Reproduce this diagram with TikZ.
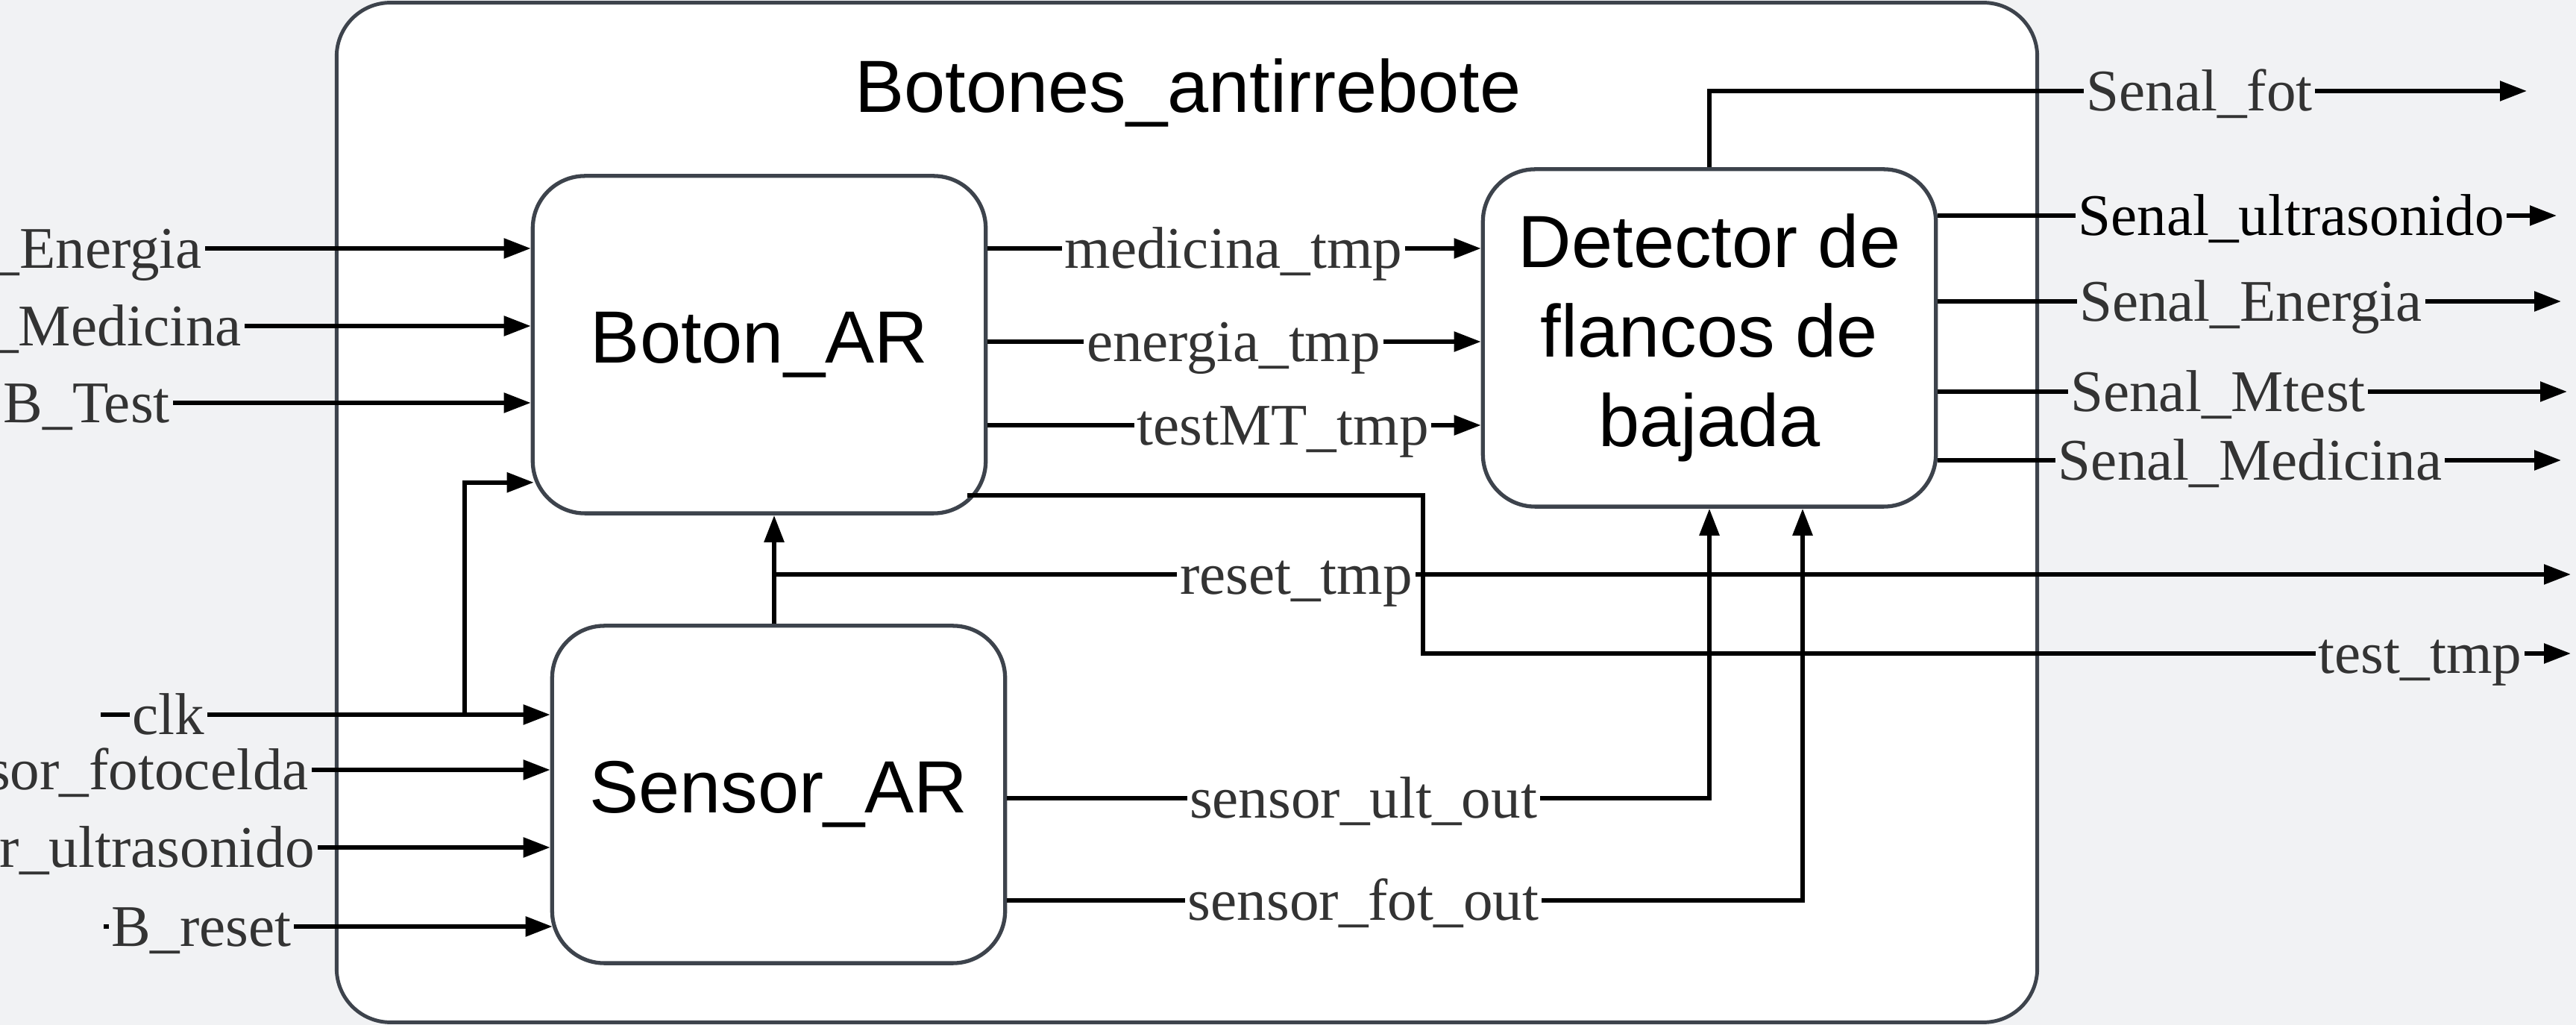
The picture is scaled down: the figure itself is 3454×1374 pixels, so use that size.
\documentclass[tikz,border=0pt]{standalone}
\usepackage{fontspec}
\setmainfont{Liberation Serif}
\setsansfont{Liberation Sans}
\usepackage{xcolor}
\definecolor{bgGray}{HTML}{F1F2F4}
\definecolor{boxLine}{HTML}{3D434C}
\definecolor{lblText}{HTML}{333333}
\usepackage{tikz}
\usetikzlibrary{arrows.meta, positioning, calc}

\begin{document}
\begin{tikzpicture}[
		x=0.01cm, y=-0.01cm,
		blk/.style={draw=boxLine, line width=1.5pt, fill=white,
			rounded corners=0.7cm, minimum width=6.07cm, minimum height=4.52cm,
			inner sep=0pt, align=center,
			font=\sffamily\fontsize{28.2}{34.1}\selectfont},
		ttl/.style={font=\sffamily\fontsize{28.2}{34.1}\selectfont},
		sig/.style={line width=1.6pt, -{Triangle[length=3.6mm, width=2.6mm]}},
		lblin/.style={fill=white, inner sep=1pt, text=lblText,
			text height=0.53cm, text depth=0cm,
			font=\fontsize{22.5}{27}\selectfont},
		lblout/.style={lblin, fill=bgGray}
	]
	% ===== Canvas =====
	\useasboundingbox (0,0) rectangle (3454,1374);
	\clip (0,0) rectangle (3454,1374);
	\fill[bgGray] (0,0) rectangle (3454,1374);

	% ===== Wrapper and the three blocks =====
	\node[draw=boxLine, line width=1.4pt, fill=white, rounded corners=0.72cm,
		minimum width=22.79cm, minimum height=13.66cm, inner sep=0pt]
		(wrap) at (1591.5,687) {};
	\node[ttl] (title) at (1593,124) {Botones\_antirrebote};
	\node[blk] (boton)    at (1018,462)  {Boton\_AR};
	\node[blk] (sensor)   at (1044,1065) {Sensor\_AR};
	\node[blk] (detector) at (2292,453)  {Detector de\\flancos de\\bajada};

	% ===== Inputs on the left =====
	\node[lblout, anchor=east] (inEn) at (275,333) {\_Energia};
	\draw[sig] (inEn.east) -- (boton.west |- inEn.east);
	\node[lblout, anchor=east] (inMed) at (328,437) {\_Medicina};
	\draw[sig] (inMed.east) -- (boton.west |- inMed.east);
	\node[lblout, anchor=east] (inTest) at (232,540) {B\_Test};
	\draw[sig] (inTest.east) -- (boton.west |- inTest.east);

	\coordinate (clkin) at (135,958);
	\coordinate (clkbr) at (623,958);
	\draw[sig] (clkin) -- (sensor.west |- clkin);
	\draw[sig] (clkbr) |- ([shift={(0.04cm,0.44cm)}]boton.south west);
	\node[lblout] (clk) at (226,958) {clk};

	\node[lblout, anchor=east] (inFot) at (418,1032) {sor\_fotocelda};
	\draw[sig] (inFot.east) -- (sensor.west |- inFot.east);
	\node[lblout, anchor=east] (inUlt) at (426,1136) {r\_ultrasonido};
	\draw[sig] (inUlt.east) -- (sensor.west |- inUlt.east);

	\coordinate (rstin) at (139,1242);
	\draw[sig] (rstin) -- ([xshift=0.03cm]sensor.west |- rstin);
	\node[lblout] (brst) at (270,1242) {B\_reset};

	% ===== Boton_AR to the detector =====
	\coordinate (medY) at (1654,333);
	\coordinate (enY)  at (1654,458);
	\coordinate (mtY)  at (1720,570);
	\draw[sig] (boton.east |- medY) -- (detector.west |- medY);
	\draw[sig] (boton.east |- enY) -- (detector.west |- enY);
	\draw[sig] (boton.east |- mtY) -- (detector.west |- mtY);
	\node[lblin] (medtmp) at (medY) {medicina\_tmp};
	\node[lblin] (entmp)  at (enY)  {energia\_tmp};
	\node[lblin] (mttmp)  at (mtY)  {testMT\_tmp};

	% ===== reset_tmp and test_tmp =====
	\coordinate (rstbr)  at (1038,770);
	\coordinate (rstend) at (3447,770);
	\draw[sig] (sensor.north -| rstbr) -- (boton.south -| rstbr);
	\draw[sig] (rstbr) -- (rstend);
	\node[lblin] (rsttmp) at (1738,770) {reset\_tmp};

	\coordinate (tststart) at ($(boton.south east)+(-27,-27)$);
	\coordinate (tstbend)  at (1908,876);
	\coordinate (tstend)   at (3447,876);
	\draw[sig] (tststart) -| (tstbend) -- (tstend);
	\node[lblout] (tsttmp) at (3245,876) {test\_tmp};

	% ===== Sensor_AR up into the detector =====
	\coordinate (ultbend) at (2292,1070);
	\coordinate (fotbend) at (2417,1207);
	\draw[sig] (sensor.east |- ultbend) -- (ultbend) -- (ultbend |- detector.south);
	\draw[sig] (sensor.east |- fotbend) -- (fotbend) -- (fotbend |- detector.south);
	\node[lblin] (ulttmp) at (1828,1070) {sensor\_ult\_out};
	\node[lblin] (fottmp) at (1828,1207) {sensor\_fot\_out};

	% ===== Detector outputs =====
	\coordinate (fotcorner) at (2292,122);
	\coordinate (oFot) at (3388,122);
	\coordinate (oUlt) at (3428,289);
	\coordinate (oEn)  at (3434,404);
	\coordinate (oMt)  at (3442,525);
	\coordinate (oMed) at (3434,617);
	\draw[sig] (detector.north) -- (fotcorner) -- (oFot);
	\draw[sig] (detector.east |- oUlt) -- (oUlt);
	\draw[sig] (detector.east |- oEn) -- (oEn);
	\draw[sig] (detector.east |- oMt) -- (oMt);
	\draw[sig] (detector.east |- oMed) -- (oMed);
	\node[lblout] (sFot) at (2949,122) {Senal\_fot};
	\node[lblout, text=black] (sUlt) at (3072,289) {Senal\_ultrasonido};
	\node[lblout] (sEn)  at (3018,404) {Senal\_Energia};
	\node[lblout] (sMt)  at (2974,525) {Senal\_Mtest};
	\node[lblout] (sMed) at (3017,617) {Senal\_Medicina};
\end{tikzpicture}
\end{document}
